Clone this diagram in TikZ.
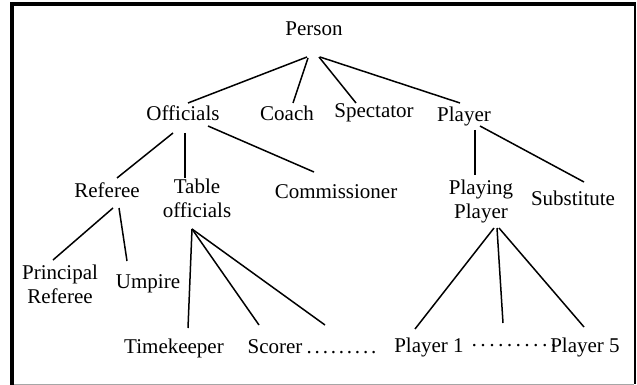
\documentclass[tikz,border=0pt]{standalone}
\usepackage{fontspec}
\setmainfont{Liberation Serif}
\newcommand{\lowdotrow}{.\kern2.8pt.\kern2.8pt.\kern2.8pt.\kern2.8pt.\kern2.8pt.\kern2.8pt.\kern2.8pt.\kern2.8pt.}
\newcommand{\middotrow}{·\kern1.8pt·\kern1.8pt·\kern1.8pt·\kern1.8pt·\kern1.8pt·\kern1.8pt·\kern1.8pt·\kern1.8pt·\kern1.8pt·}
\begin{document}
\begin{tikzpicture}[x=1pt,y=-1pt,
  lbl/.style={anchor=base,inner sep=0pt,align=center,font=\fontsize{21}{24}\selectfont},
  link/.style={line width=1.5pt}]
\useasboundingbox (0,0) rectangle (637,385);
% frame
\fill[white] (0,0) rectangle (637,385);
\draw[line width=4pt] (12,385) -- (12,4.5) -- (636,4.5);
\draw[line width=2.2pt] (634.8,3) -- (634.8,384);
\draw[line width=1pt,black!35] (14,384.5) -- (634,384.5);

% labels (two-line labels are anchored at the baseline of their last line)
\node[lbl] (person) at (314,36) {Person};
\node[lbl] (off) at (183,121) {Officials};
\node[lbl] (coach) at (287,121) {Coach};
\node[lbl] (spec) at (374,118) {Spectator};
\node[lbl] (player) at (464,122) {Player};
\node[lbl] (ref) at (107,197) {Referee};
\node[lbl] (tab) at (197,217) {Table\\officials};
\node[lbl] (comm) at (336,198) {Commissioner};
\node[lbl] (pp) at (481,218) {Playing\\Player};
\node[lbl] (sub) at (573,205) {Substitute};
\node[lbl] (pref) at (60,303) {Principal\\Referee};
\node[lbl] (ump) at (148,288) {Umpire};
\node[lbl] (time) at (174,353) {Timekeeper};
\node[lbl] (scorer) at (275,353) {Scorer};
\node[lbl] (sdots) at (341.5,353) {\lowdotrow};
\node[lbl] (p1) at (429,352) {Player 1};
\node[lbl] (pdots) at (514,352) {\middotrow};
\node[lbl] (p5) at (585,352) {Player 5};

% tree links
\draw[link] ([shift={(-7,21)}]person.base) -- ([shift={(5,-18)}]off.base);
\draw[link] ([shift={(-6,22)}]person.base) -- ([shift={(6,-18)}]coach.base);
\draw[link] ([shift={(5,21)}]person.base) -- ([shift={(-18,-15)}]spec.base);
\draw[link] ([shift={(6,21)}]person.base) -- ([shift={(-4,-19)}]player.base);
\draw[link] ([shift={(-10,12)}]off.base) -- ([shift={(10,-19)}]ref.base);
\draw[link] ([shift={(2,12)}]off.base) -- ([shift={(-12,-39)}]tab.base);
\draw[link] ([shift={(25,5)}]off.base) -- ([shift={(-22,-26)}]comm.base);
\draw[link] ([shift={(11,8)}]player.base) -- ([shift={(-6,-43)}]pp.base);
\draw[link] ([shift={(16,4)}]player.base) -- ([shift={(11,-23)}]sub.base);
\draw[link] ([shift={(6,11)}]ref.base) -- ([shift={(-7,-43)}]pref.base);
\draw[link] ([shift={(12,11)}]ref.base) -- ([shift={(-21,-27)}]ump.base);
\draw[link] ([shift={(-5,12)}]tab.base) -- ([shift={(14,-25)}]time.base);
\draw[link] ([shift={(-5,12)}]tab.base) -- ([shift={(-16,-28)}]scorer.base);
\draw[link] ([shift={(-5,12)}]tab.base) -- ([shift={(-16.5,-28)}]sdots.base);
\draw[link] ([shift={(13,10)}]pp.base) -- ([shift={(-14,-23)}]p1.base);
\draw[link] ([shift={(16,10)}]pp.base) -- ([shift={(-11,-29)}]pdots.base);
\draw[link] ([shift={(18,10)}]pp.base) -- ([shift={(-1,-25)}]p5.base);
\end{tikzpicture}
\end{document}
